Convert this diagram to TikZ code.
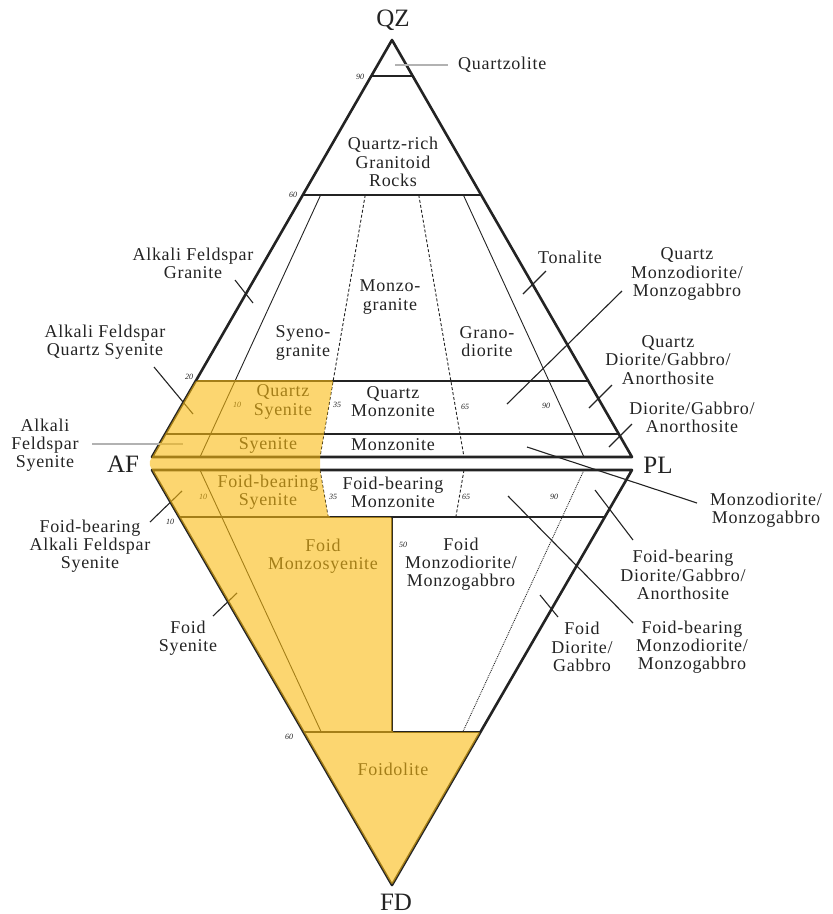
\documentclass[tikz,border=0pt]{standalone}
\usepackage{fontspec}
\setmainfont{Liberation Serif}
\newfontfamily\rockfont[LetterSpace=4]{Liberation Serif}
\usepackage{tikz}
\definecolor{ink}{RGB}{35,35,35}
\definecolor{foid}{RGB}{250,187,17}
\newcommand{\upt}[2]{({152+480*#1+(240-480*#1)*((457-#2)/417)},#2)}
\newcommand{\lowt}[2]{({152+480*#1+(240-480*#1)*((#2-470)/415)},#2)}
\newcommand{\rock}[4]{\node[rock] (#1) at (#2,#3) {#4};}
\newcommand{\pct}[4]{\node[pct] (#1) at (#2,#3) {#4};}
\newcommand{\leadline}[4]{%
  \coordinate (#1-a) at (#2); \coordinate (#1-b) at (#3);
  \draw[#4] (#1-a) -- (#1-b);}

\begin{document}
\begin{tikzpicture}[x=1pt,y=-1pt,
  rock/.style={font=\rockfont\fontsize{18}{18.2}\selectfont, align=center, text=ink, inner sep=0pt},
  apex/.style={font=\fontsize{25}{25}\selectfont, text=ink, inner sep=0pt},
  pct/.style={font=\fontsize{8}{8}\selectfont\itshape, text=ink, inner sep=0pt},
  edge/.style={ink, line width=2.6pt, line join=round},
  bound/.style={ink, line width=1.3pt},
  ratio/.style={ink, line width=0.9pt},
  leader/.style={ink, line width=1.1pt},
  faint/.style={gray!60, line width=2pt}]
  \useasboundingbox (0,0) rectangle (833,914);
  \coordinate (Q) at (392,40);
  \coordinate (A) at (152,457);
  \coordinate (P) at (632,457);
  \coordinate (A2) at (152,470);
  \coordinate (P2) at (632,470);
  \coordinate (F) at (392,885);

  \draw[bound] \upt{0}{76} -- \upt{1}{76};
  \draw[bound] \upt{0}{195} -- \upt{1}{195};
  \draw[bound] \upt{0}{381} -- \upt{1}{381};
  \draw[bound] \upt{0}{434} -- \upt{1}{434};
  \foreach \r/\s in {0.1/solid,0.35/densely dashed,0.65/densely dashed,0.9/solid}
    \draw[ratio,\s] \upt{\r}{195} -- \upt{\r}{457};

  \draw[bound] \lowt{0}{517} -- \lowt{1}{517};
  \draw[bound] \lowt{0}{732} -- \lowt{1}{732};
  \foreach \r/\s in {0.1/solid,0.9/densely dotted}
    \draw[ratio,\s] \lowt{\r}{470} -- \lowt{\r}{732};
  \foreach \r in {0.35,0.65}
    \draw[ratio,densely dashed] \lowt{\r}{470} -- \lowt{\r}{517};
  \draw[bound] (392,517) -- (392,732);

  \draw[edge] (A) -- (Q) -- (P) -- cycle;
  \draw[edge] (A2) -- (F) -- (P2) -- cycle;

  \node[apex] (qz) at (393,20) {QZ};
  \node[apex] (af) at (123,464) {AF};
  \node[apex] (pl) at (658,465) {PL};
  \node[apex] (fd) at (396,902) {FD};

  \node[rock, anchor=west] (qzl) at (458,65) {Quartzolite};
  \rock{qrg}{393}{162}{Quartz-rich\\Granitoid\\Rocks}
  \rock{afg}{193}{263}{Alkali Feldspar\\Granite}
  \rock{syg}{303}{343}{Syeno-\\granite}
  \rock{mzg}{390}{297}{Monzo-\\granite}
  \rock{grd}{487}{342}{Grano-\\diorite}
  \rock{ton}{570}{257}{Tonalite}
  \rock{qmd}{687}{274}{Quartz\\Monzodiorite/\\Monzogabbro}
  \rock{afqs}{105}{342}{Alkali Feldspar\\Quartz Syenite}
  \rock{qsy}{283}{402}{Quartz\\Syenite}
  \rock{qmz}{393}{402}{Quartz\\Monzonite}
  \rock{qdg}{668}{360}{Quartz\\Diorite/Gabbro/\\Anorthosite}
  \rock{dga}{692}{417}{Diorite/Gabbro/\\Anorthosite}
  \rock{afs}{45}{445}{Alkali\\Feldspar\\Syenite}
  \rock{sye}{268}{445}{Syenite}
  \rock{mzn}{393}{445}{Monzonite}
  \rock{fbs}{268}{492}{Foid-bearing\\Syenite}
  \rock{fbm}{393}{492}{Foid-bearing\\Monzonite}
  \rock{mdg}{766}{510}{Monzodiorite/\\Monzogabbro}
  \rock{fbafs}{90}{546}{Foid-bearing\\Alkali Feldspar\\Syenite}
  \rock{fbdg}{683}{575}{Foid-bearing\\Diorite/Gabbro/\\Anorthosite}
  \rock{fms}{323}{556}{Foid\\Monzosyenite}
  \rock{fmd}{461}{564}{Foid\\Monzodiorite/\\Monzogabbro}
  \rock{fsy}{188}{638}{Foid\\Syenite}
  \rock{fdg}{582}{647}{Foid\\Diorite/\\Gabbro}
  \rock{fbmd}{692}{647}{Foid-bearing\\Monzodiorite/\\Monzogabbro}
  \rock{fdl}{393}{769}{Foidolite}

  \pct{q90}{360}{77}{90}
  \pct{q60}{293}{195}{60}
  \pct{q20}{189}{377}{20}
  \pct{r10a}{237}{405}{10}
  \pct{r35a}{337}{405}{35}
  \pct{r65a}{465}{407}{65}
  \pct{r90a}{546}{406}{90}
  \pct{r10b}{203}{497}{10}
  \pct{r35b}{333}{497}{35}
  \pct{r65b}{466}{497}{65}
  \pct{r90b}{554}{497}{90}
  \pct{f10}{170}{522}{10}
  \pct{r50}{403}{545}{50}
  \pct{f60}{289}{737}{60}

  \leadline{qzl}{395,65}{448,65}{faint}
  \leadline{afg}{235,280}{253,303}{leader}
  \leadline{afqs}{154,367}{193,414}{leader}
  \leadline{afs}{92,444}{183,444}{faint}
  \leadline{ton}{523,294}{546,271}{leader}
  \leadline{qmd}{507,404}{622,291}{leader}
  \leadline{qdg}{589,408}{612,385}{leader}
  \leadline{dga}{609,447}{632,424}{leader}
  \leadline{mdg}{527,447}{697,503}{leader}
  \leadline{fbdg}{595,490}{633,540}{leader}
  \leadline{fbmd}{508,496}{633,623}{leader}
  \leadline{fdg}{540,595}{558,617}{leader}
  \leadline{fbafs}{150,522}{182,491}{leader}
  \leadline{fsy}{213,616}{237,593}{leader}

  \fill[foid, fill opacity=0.6, rounded corners=2pt]
    \upt{0}{380} -- \upt{0.35}{380} -- \upt{0.35}{457} -- \lowt{0.35}{470}
    -- \lowt{0.35}{517} -- (392,517) -- (392,732) -- \lowt{1}{732}
    -- (F) -- (A2) -- (149,463) -- (A) -- cycle;
\end{tikzpicture}
\end{document}
